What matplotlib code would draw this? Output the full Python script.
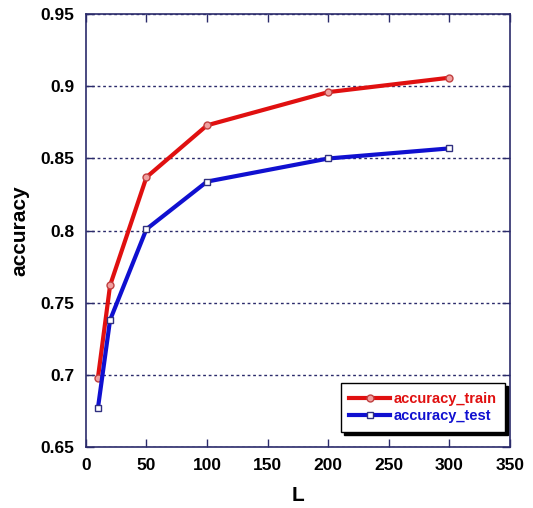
import matplotlib
matplotlib.use('Agg')
import matplotlib.pyplot as plt

plt.rcParams['font.family'] = ['Liberation Sans', 'DejaVu Sans']
plt.rcParams['font.weight'] = 'bold'

L = [10, 20, 50, 100, 200, 300]
acc_train = [0.698, 0.762, 0.837, 0.873, 0.896, 0.906]
acc_test = [0.677, 0.738, 0.801, 0.834, 0.850, 0.857]
x_ticks = [0, 50, 100, 150, 200, 250, 300, 350]
y_ticks = [0.65, 0.7, 0.75, 0.8, 0.85, 0.9, 0.95]

frame = '#2b2b6b'

fig = plt.figure(figsize=(5.33, 5.08), dpi=100)
ax = fig.add_axes([0.161, 0.120, 0.796, 0.852])

ax.plot(L, acc_train, color='#e01010', lw=3, marker='o', ms=5,
        mfc='#f0a0a0', mec='#c04040', mew=1, label='accuracy_train')
ax.plot(L, acc_test, color='#1010d0', lw=3, marker='s', ms=5,
        mfc='#ffffff', mec='#303080', mew=1, label='accuracy_test')

ax.set_xlim(0, 350)
ax.set_ylim(0.65, 0.95)
ax.set_xticks(x_ticks)
ax.set_yticks(y_ticks)
ax.set_xticklabels([str(v) for v in x_ticks])
ax.set_yticklabels(['0.65', '0.7', '0.75', '0.8', '0.85', '0.9', '0.95'])
ax.tick_params(direction='in', top=True, right=True, length=6, width=1,
               color=frame, labelsize=12.5, pad=8)
for s in ax.spines.values():
    s.set_color(frame)
    s.set_linewidth(1.2)

# dotted horizontal grid
ax.yaxis.grid(True, linestyle=(0, (2, 2)), color=frame, lw=1)
ax.set_axisbelow(True)

ax.set_xlabel('L', fontsize=15, fontweight='bold', labelpad=9)
ax.set_ylabel('accuracy', fontsize=15, fontweight='bold', labelpad=8)

leg = ax.legend(loc='lower right', bbox_to_anchor=(0.988, 0.035),
                borderaxespad=0, fontsize=10.5, frameon=True, fancybox=False,
                shadow={'color': 'black', 'alpha': 1.0},
                handlelength=2.8, handletextpad=0.2, labelspacing=0.2,
                borderpad=0.6)
leg.get_frame().set_edgecolor('black')
leg.get_frame().set_linewidth(1)
for txt, c in zip(leg.get_texts(), ['#e01010', '#1010d0']):
    txt.set_color(c)

fig.savefig('out.png', dpi=100)
